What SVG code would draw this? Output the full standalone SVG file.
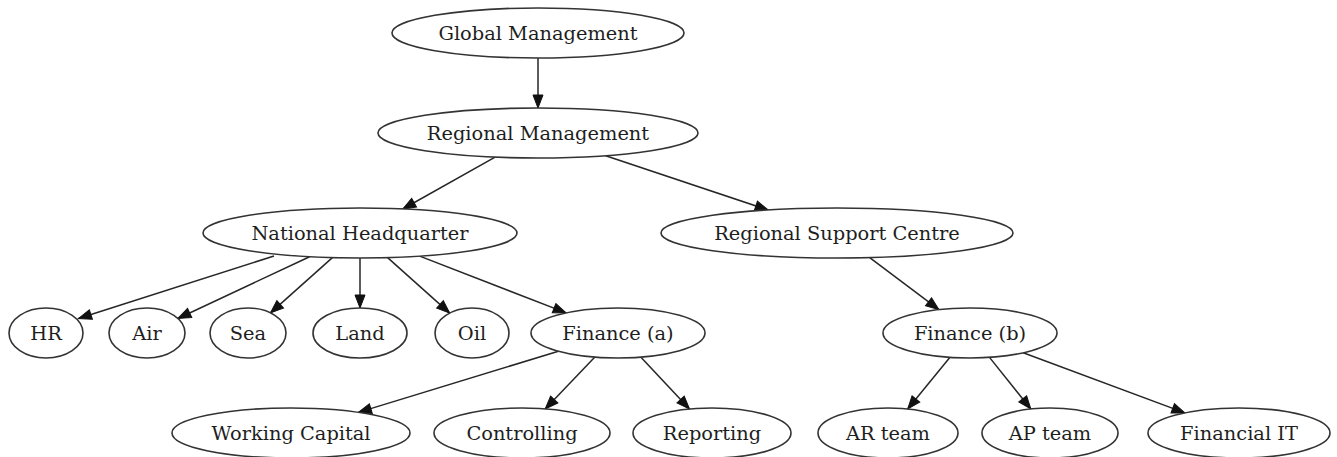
<svg xmlns="http://www.w3.org/2000/svg" width="1337" height="457" viewBox="0 0 1337 457">
  <defs>
    <marker id="arrow" markerUnits="userSpaceOnUse" markerWidth="16" markerHeight="12" refX="13" refY="5" orient="auto" overflow="visible">
      <path d="M0,0 L13,5 L0,10 Z" fill="#111" stroke="#111" stroke-width="1"/>
    </marker>
    <style>
      .node ellipse { fill: #ffffff; stroke: #333333; stroke-width: 1.6; }
      .node text { font-family: "DejaVu Serif", "Liberation Serif", serif; font-size: 19.4px; fill: #1e1e1e; text-anchor: middle; }
      .edges line { stroke: #262626; stroke-width: 1.5; fill: none; marker-end: url(#arrow); }
    </style>
  </defs>
  <rect x="0" y="0" width="1337" height="457" fill="#ffffff"/>

  <!-- connectors -->
  <g id="edges" class="edges">
    <line x1="538" y1="58" x2="538" y2="108"/>
    <line x1="495.1" y1="157.1" x2="402.8" y2="209"/>
    <line x1="605.7" y1="155.7" x2="768.2" y2="210"/>
    <line x1="274" y1="256" x2="78.5" y2="318.5"/>
    <line x1="309.6" y1="256.7" x2="177.9" y2="318.5"/>
    <line x1="332.4" y1="257.6" x2="270.5" y2="312.9"/>
    <line x1="360" y1="258" x2="360" y2="308"/>
    <line x1="387.6" y1="257.6" x2="449.7" y2="313.1"/>
    <line x1="419.7" y1="256.1" x2="566.2" y2="312.9"/>
    <line x1="869.7" y1="257.6" x2="938.9" y2="309.6"/>
    <line x1="558.4" y1="351.2" x2="358.4" y2="412.4"/>
    <line x1="594.9" y1="357.1" x2="545.2" y2="408.9"/>
    <line x1="640.7" y1="357.1" x2="689.5" y2="409"/>
    <line x1="950" y1="357.3" x2="907.7" y2="409"/>
    <line x1="989.5" y1="357.4" x2="1030.8" y2="409"/>
    <line x1="1023.2" y1="352.8" x2="1184.9" y2="412.9"/>
  </g>

  <!-- nodes -->
  <g id="global-management" class="node">
    <ellipse cx="538" cy="33" rx="146" ry="25"/>
    <text x="538" y="39.5">Global Management</text>
  </g>
  <g id="regional-management" class="node">
    <ellipse cx="538" cy="133" rx="160" ry="25"/>
    <text x="538" y="139.5">Regional Management</text>
  </g>
  <g id="national-headquarter" class="node">
    <ellipse cx="360" cy="233" rx="157" ry="25"/>
    <text x="360" y="239.5">National Headquarter</text>
  </g>
  <g id="regional-support-centre" class="node">
    <ellipse cx="837" cy="233" rx="176" ry="25"/>
    <text x="837" y="239.5">Regional Support Centre</text>
  </g>
  <g id="hr" class="node">
    <ellipse cx="46" cy="333" rx="37" ry="25"/>
    <text x="46" y="339.5">HR</text>
  </g>
  <g id="air" class="node">
    <ellipse cx="147" cy="333" rx="38" ry="25"/>
    <text x="147" y="339.5">Air</text>
  </g>
  <g id="sea" class="node">
    <ellipse cx="248" cy="333" rx="38" ry="25"/>
    <text x="248" y="339.5">Sea</text>
  </g>
  <g id="land" class="node">
    <ellipse cx="360" cy="333" rx="47" ry="25"/>
    <text x="360" y="339.5">Land</text>
  </g>
  <g id="oil" class="node">
    <ellipse cx="472" cy="333" rx="37" ry="25"/>
    <text x="472" y="339.5">Oil</text>
  </g>
  <g id="finance-a" class="node">
    <ellipse cx="618" cy="333" rx="87" ry="25"/>
    <text x="618" y="339.5">Finance (a)</text>
  </g>
  <g id="finance-b" class="node">
    <ellipse cx="970" cy="333" rx="87" ry="25"/>
    <text x="970" y="339.5">Finance (b)</text>
  </g>
  <g id="working-capital" class="node">
    <ellipse cx="291" cy="433" rx="119" ry="25"/>
    <text x="291" y="439.5">Working Capital</text>
  </g>
  <g id="controlling" class="node">
    <ellipse cx="522" cy="433" rx="88" ry="25"/>
    <text x="522" y="439.5">Controlling</text>
  </g>
  <g id="reporting" class="node">
    <ellipse cx="712" cy="433" rx="79" ry="25"/>
    <text x="712" y="439.5">Reporting</text>
  </g>
  <g id="ar-team" class="node">
    <ellipse cx="888" cy="433" rx="70" ry="25"/>
    <text x="888" y="439.5">AR team</text>
  </g>
  <g id="ap-team" class="node">
    <ellipse cx="1050" cy="433" rx="68" ry="25"/>
    <text x="1050" y="439.5">AP team</text>
  </g>
  <g id="financial-it" class="node">
    <ellipse cx="1239" cy="433" rx="91" ry="25"/>
    <text x="1239" y="439.5">Financial IT</text>
  </g>
</svg>
